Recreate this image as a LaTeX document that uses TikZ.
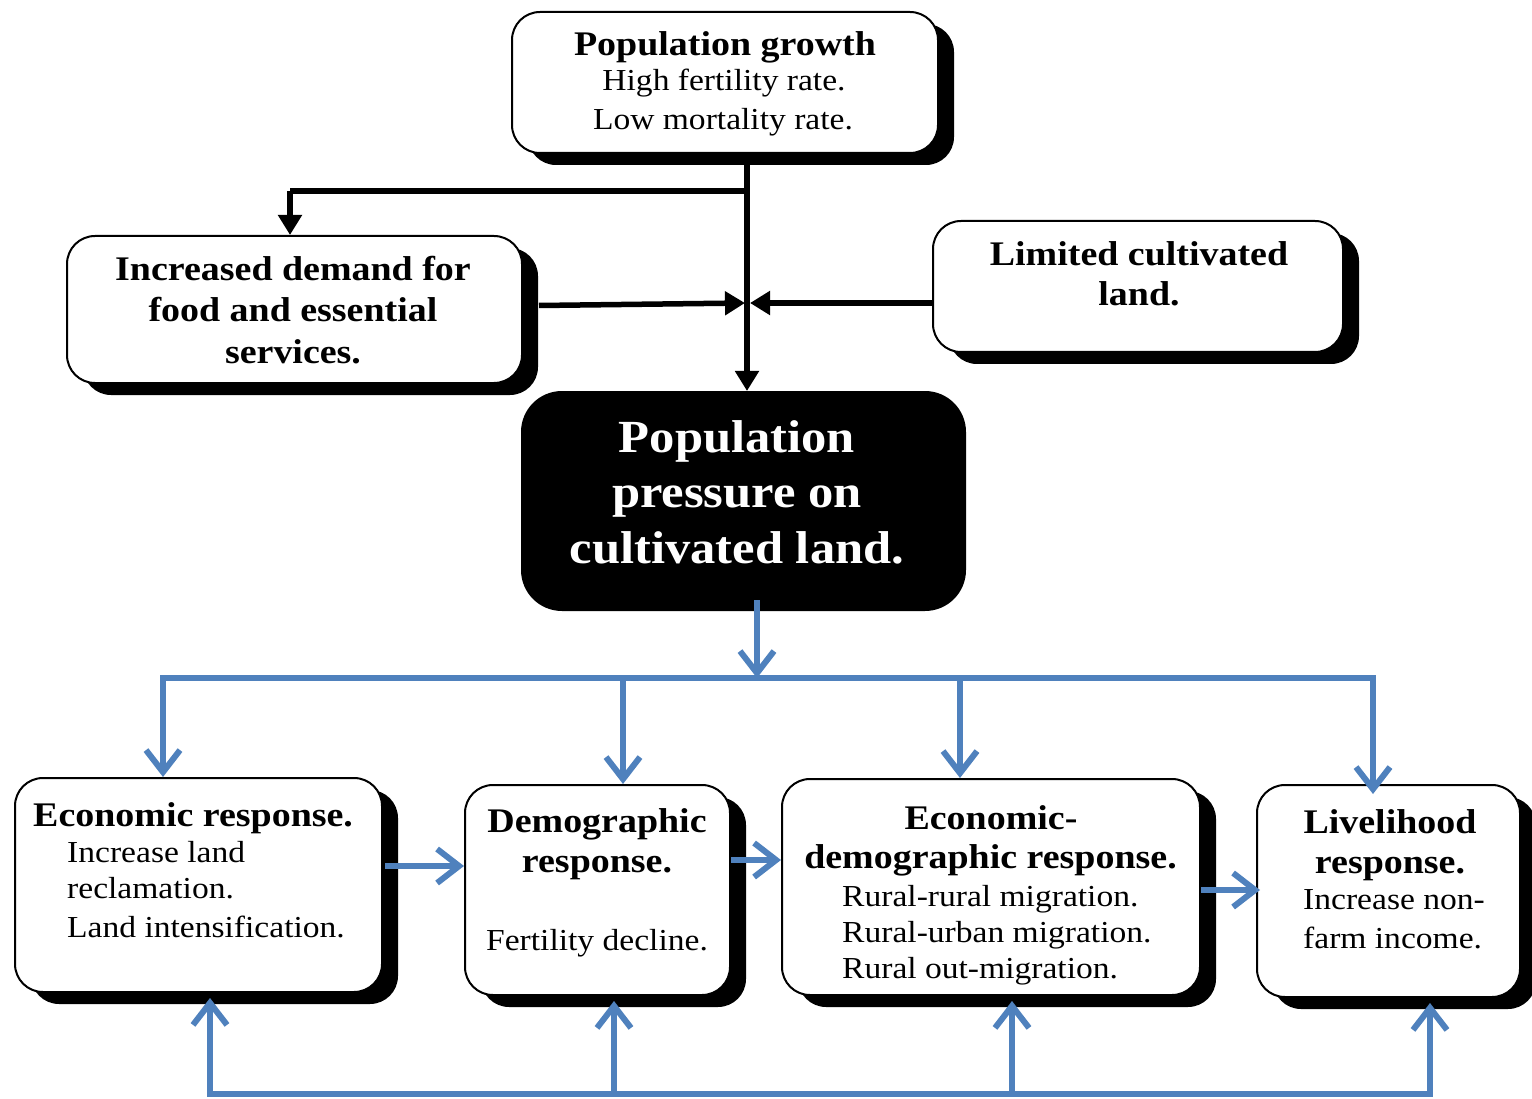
\documentclass[tikz,border=0pt]{standalone}
\usepackage{fontspec}
\setmainfont{Liberation Serif}[FakeStretch=1.1]
\usetikzlibrary{arrows.meta,shadows,calc}
\definecolor{bluel}{HTML}{4F81BD}
\begin{document}
\begin{tikzpicture}[x=1pt,y=-1pt,
  box/.style={draw=black,line width=2pt,fill=white,rounded corners=28pt,inner sep=0pt,
     drop shadow={shadow xshift=16pt,shadow yshift=-12pt,fill=black,opacity=1}},
  blackbox/.style={draw=black,line width=2pt,fill=black,rounded corners=40pt,inner sep=0pt},
  hd/.style={inner sep=0pt,anchor=base,font=\fontsize{34.5}{40}\selectfont\bfseries},
  tx/.style={inner sep=0pt,anchor=base,font=\fontsize{30.5}{36}\selectfont},
  txl/.style={tx,anchor=base west},
  hdl/.style={hd,anchor=base west},
  big/.style={inner sep=0pt,anchor=base,text=white,font=\fontsize{46}{56}\selectfont\bfseries},
  barrow/.style={line width=5.5pt,-{Triangle[length=20pt,width=23pt]}},
  bline/.style={line width=5.5pt},
  blarrow/.style={draw=bluel,line width=6pt,-{Straight Barb[length=22pt,width=34pt]}},
  blline/.style={draw=bluel,line width=6pt}]
\useasboundingbox (0,0) rectangle (1532,1099);
% boxes
\node[box,minimum width=426pt,minimum height=141pt] (pg) at (725,82.5) {};
\node[box,minimum width=455pt,minimum height=147pt] (dem) at (294.5,309.5) {};
\node[box,minimum width=410pt,minimum height=131pt] (lim) at (1138,286.5) {};
\node[blackbox,minimum width=443pt,minimum height=218pt] (pp) at (743.5,501) {};
\node[box,minimum width=367pt,minimum height=214pt] (er) at (198.5,885) {};
\node[box,minimum width=265pt,minimum height=210pt] (dr) at (597.5,890) {};
\node[box,minimum width=418pt,minimum height=216pt] (ed) at (991,887) {};
\node[box,minimum width=263pt,minimum height=212pt] (lr) at (1388.5,891) {};
% texts
\node[hd] (pg1) at (725,55.5) {Population growth};
\node[tx] (pg2) at (724,91) {High fertility rate.};
\node[tx] (pg3) at (723,130) {Low mortality rate.};
\node[hd] (dem1) at (293,280.5) {Increased demand for};
\node[hd] (dem2) at (293,321.5) {food and essential};
\node[hd] (dem3) at (293,363.5) {services.};
\node[hd] (lim1) at (1139,265.5) {Limited cultivated};
\node[hd] (lim2) at (1139,305.5) {land.};
\node[big] (pp1) at (737,452) {Population};
\node[big] (pp2) at (737,507) {pressure on};
\node[big] (pp3) at (737,563) {cultivated land.};
\node[hdl] (er1) at (33,826.5) {Economic response.};
\node[txl] (er2) at (67,862) {Increase land};
\node[txl] (er3) at (67,898) {reclamation.};
\node[txl] (er4) at (67,937) {Land intensification.};
\node[hd] (dr1) at (597,832.5) {Demographic};
\node[hd] (dr2) at (597,872.5) {response.};
\node[tx] (dr3) at (597,950) {Fertility decline.};
\node[hd] (ed1) at (991,829.5) {Economic-};
\node[hd] (ed2) at (990.5,868.5) {demographic response.};
\node[txl] (ed3) at (842,906) {Rural-rural migration.};
\node[txl] (ed4) at (842,942) {Rural-urban migration.};
\node[txl] (ed5) at (842,978) {Rural out-migration.};
\node[hd] (lr1) at (1390,833.5) {Livelihood};
\node[hd] (lr2) at (1390,873.5) {response.};
\node[txl] (lr3) at (1303,909) {Increase non-};
\node[txl] (lr4) at (1303,948) {farm income.};
% black connectors
\coordinate (j1) at (747,191);
\coordinate (j2) at (745,303);
\coordinate (j3) at (750,303);
\draw[barrow] (pg.south -| j1) -- (pp.north -| j1);
\draw[bline] (j1) -- (290,191) coordinate (j0);
\draw[barrow] (j0) -- (dem.north -| j0);
\draw[barrow] ($(dem.east)+(16,-4)$) -- (j2);
\draw[barrow] (lim.west |- j3) -- (j3);
% blue connectors
\coordinate (b0) at (757,600);
\coordinate (bm) at (757,678);
\coordinate (bl) at (163,678);
\coordinate (br) at (1373,678);
\coordinate (c2) at (623,678);
\coordinate (c3) at (960,678);
\draw[blarrow] (b0) -- (bm);
\draw[blline] ([xshift=-3pt]bl) -- ([xshift=3pt]br);
\draw[blarrow] (bl) -- (er.north -| bl);
\draw[blarrow] (c2) -- (dr.north -| c2);
\draw[blarrow] (c3) -- (ed.north -| c3);
\draw[blarrow] (br) -- ([yshift=-10pt]lr.north -| br);
\draw[blarrow] (385,866) coordinate (h1) -- (h1 -| dr.west);
\draw[blarrow] (731,860) coordinate (h2) -- (h2 -| ed.west);
\draw[blarrow] (1201,890) coordinate (h3) -- ([xshift=4pt]h3 -| lr.west);
\coordinate (u1) at (210,1094);
\coordinate (u2) at (614,1094);
\coordinate (u3) at (1012,1094);
\coordinate (u4) at (1430,1094);
\draw[blline] ([xshift=-3pt]u1) -- ([xshift=3pt]u4);
\draw[blarrow] (u1) -- ([yshift=-5pt]er.south -| u1);
\draw[blarrow] (u2) -- ([yshift=-5pt]dr.south -| u2);
\draw[blarrow] (u3) -- ([yshift=-5pt]ed.south -| u3);
\draw[blarrow] (u4) -- ([yshift=-5pt]lr.south -| u4);
\end{tikzpicture}
\end{document}
